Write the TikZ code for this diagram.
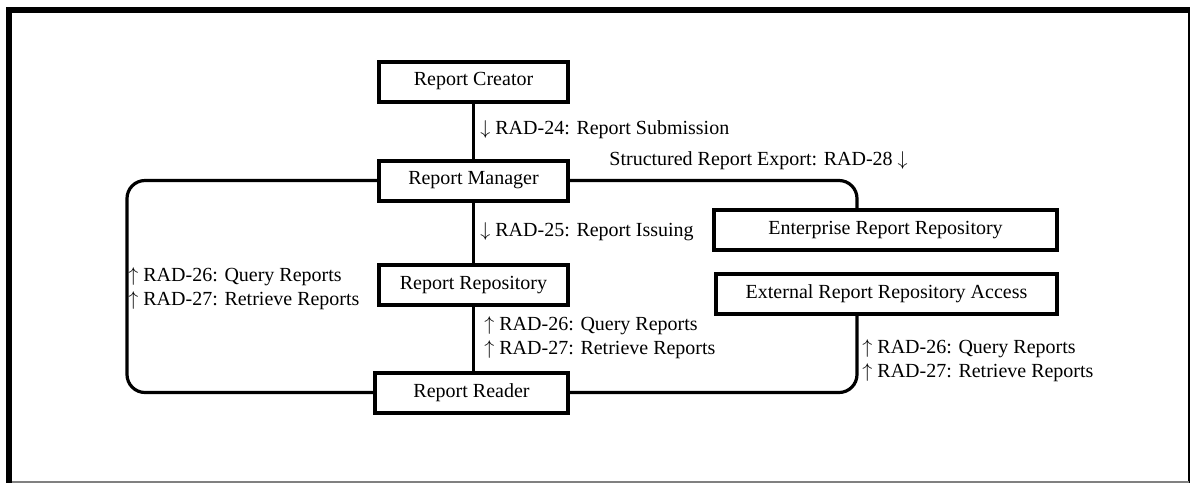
\documentclass[tikz,border=0pt]{standalone}
\usepackage{fontspec}
\setmainfont{Liberation Serif}
\usepackage{tikz}
\usetikzlibrary{positioning,calc}

\begin{document}
\begin{tikzpicture}[
    x=0.5pt,y=-0.5pt,
    every node/.style={font=\normalsize},
    actor/.style={rectangle,draw=black,line width=2pt,fill=white,
                  minimum height=20pt,inner sep=2pt,align=center},
    conn/.style={line width=1.6pt,rounded corners=9pt},
    lab/.style={inner sep=0pt,anchor=west,align=left}
  ]
  \useasboundingbox (0,0) rectangle (1192,483);
  % frame
  \draw[line width=3pt] (6,10) -- (1190,10);
  \draw[line width=3pt] (9,7) -- (9,483);
  \draw[line width=0.75pt] (1189,13) -- (1189,483);
  \draw[gray,line width=1pt] (12,482) -- (1189,482);

  \node[actor,minimum width=94.5pt]  (crt) at (473.5,81.5)  {Report Creator};
  \node[actor,minimum width=94.5pt]  (mgr) at (473.5,180.5) {Report Manager};
  \node[actor,minimum width=94.5pt]  (rep) at (473.5,285)   {Report Repository};
  \node[actor,minimum width=96.5pt]  (rdr) at (471.5,392.5) {Report Reader};
  \node[actor,minimum width=171.5pt] (ent) at (885.5,230)   {Enterprise Report Repository};
  \node[actor,minimum width=170.5pt] (ext) at (886.5,294)   {External Report Repository Access};
  \coordinate (xe) at (857,0);
  \coordinate (xw) at (127,0);

  \draw[conn] (crt) -- (mgr);
  \draw[conn] (mgr) -- (rep);
  \draw[conn] (rep.south) -- (rep.south |- rdr.north);
  \draw[conn] (mgr.west) -- (xw |- mgr.west) -- (xw |- rdr.west) -- (rdr.west);
  \draw[conn] (mgr.east) -| (xe |- ent.north);
  \draw[conn] (rdr.east) -| (xe |- ext.south);

  \node[lab] (l24) at (480,130) {$\downarrow$ RAD-24: Report Submission};
  \node[lab] (l28) at (609,161) {Structured Report Export: RAD-28 $\downarrow$};
  \node[lab] (l25) at (480,232) {$\downarrow$ RAD-25: Report Issuing};
  \node[lab] (lqw) at (128,289) {$\uparrow$ RAD-26: Query Reports\\$\uparrow$ RAD-27: Retrieve Reports};
  \node[lab] (lqm) at (484,337.5) {$\uparrow$ RAD-26: Query Reports\\$\uparrow$ RAD-27: Retrieve Reports};
  \node[lab] (lqe) at (862,361) {$\uparrow$ RAD-26: Query Reports\\$\uparrow$ RAD-27: Retrieve Reports};
\end{tikzpicture}
\end{document}
